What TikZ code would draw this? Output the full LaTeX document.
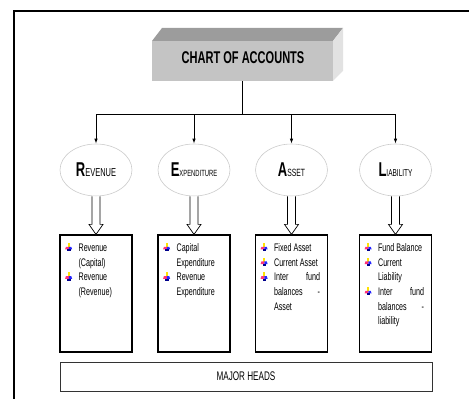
\documentclass[tikz,border=0pt]{standalone}
\usepackage{fontspec}
\setmainfont{Liberation Sans}[FakeStretch=0.65]
\usetikzlibrary{arrows.meta,calc,shapes.geometric}
\usepackage{array}

\definecolor{topface}{HTML}{9C9C9C}
\definecolor{frontface}{HTML}{C4C4C4}
\definecolor{sideface}{HTML}{E2E2E2}

\newcommand\bul{\tikz[x=1pt,y=1pt,baseline=0pt]{%
 \fill[yellow!85!orange] (2.6,4.2) rectangle (4.8,8.5);
 \fill[red!65!magenta!80] (0,2) -- (3.7,2) -- (3.7,4.6) -- (0.8,4.6) -- cycle;
 \fill[blue!85] (3.7,2) -- (7,2) -- (6.2,4.6) -- (3.7,4.6) -- cycle;
 \fill[blue!55!black] (2.2,0) rectangle (5.4,2);}}

\newcommand\hollowarrow[2]{%
 \draw[hollow] ($(#1.south)+(-4,0)$) -- ($(#2.north)+(-4,10)$) -- ($(#2.north)+(-7,10)$)
   -- (#2.north) -- ($(#2.north)+(7,10)$) -- ($(#2.north)+(4,10)$) -- ($(#1.south)+(4,0)$);}

\tikzset{
 ell/.style={ellipse, draw=gray!40, line width=0.6pt, fill=white, minimum width=72pt,
   minimum height=52pt, inner sep=0pt},
 headbox/.style={draw, line width=1.2pt, minimum width=72pt, minimum height=117pt, inner sep=0pt},
 conn/.style={line width=0.9pt},
 arr/.style={conn, -{Latex[length=5pt,width=3.5pt]}},
 hollow/.style={draw, line width=0.7pt, fill=white},
 itemtext/.style={anchor=north west, inner sep=0pt, align=left,
   font=\fontsize{11}{14.7}\selectfont},
}
\newcommand\myinitial[1]{{\bfseries\fontsize{20}{20}\selectfont #1}}

\begin{document}
\begin{tikzpicture}[x=1pt,y=1pt]
\useasboundingbox (0,0) rectangle (469,399);
% frame
\draw[line width=2.4pt] (14,0) -- (14,388) -- (469,388);

% 3D title box
\fill[topface] (152,358) -- (162,371) -- (343,371) -- (333,358) -- cycle;
\fill[sideface] (333,358) -- (343,371) -- (343,328) -- (333,318) -- cycle;
\node[fill=frontface, minimum width=181pt, minimum height=40pt, inner sep=0pt] (chart) at (242.5,338) {};
\node[font=\bfseries\fontsize{17}{17}\selectfont] (charttext) at (243,341.5) {CHART OF ACCOUNTS};

% ellipses
\node[ell] (rev) at (96,229) {\myinitial{R}{\fontsize{11.5}{11.5}\selectfont EVENUE}};
\node[ell] (exp) at (194,229) {\myinitial{E}{\fontsize{9}{9}\selectfont XPENDITURE}};
\node[ell] (ast) at (291.5,229) {\myinitial{A}{\fontsize{10.5}{10.5}\selectfont SSET}};
\node[ell] (lia) at (395.5,229) {\myinitial{L}{\fontsize{10}{10}\selectfont IABILITY}};

% connectors
\draw[conn] (chart.south) -- ++(0,-33) coordinate (hub);
\draw[arr] (hub) -| (rev.north);
\draw[arr] (hub) -| (exp.north);
\draw[arr] (hub) -| (ast.north);
\draw[arr] (hub) -| (lia.north);

% head boxes
\node[headbox] (b1) at (96,105.5) {};
\node[headbox] (b2) at (194,105.5) {};
\node[headbox] (b3) at (291.5,105.5) {};
\node[headbox] (b4) at (395.5,105.5) {};

\hollowarrow{rev}{b1}
\hollowarrow{exp}{b2}
\hollowarrow{ast}{b3}
\hollowarrow{lia}{b4}

\node[itemtext] (t1) at ($(b1.north west)+(5.5,-6.5)$) {%
\begin{tabular}{@{}p{13.5pt}@{}p{46pt}@{}}
\bul & Revenue\\ & (Capital)\\ \bul & Revenue\\ & (Revenue)
\end{tabular}};
\node[itemtext] (t2) at ($(b2.north west)+(5.5,-6.5)$) {%
\begin{tabular}{@{}p{13.5pt}@{}p{46pt}@{}}
\bul & Capital\\ & Expenditure\\ \bul & Revenue\\ & Expenditure
\end{tabular}};
\node[itemtext] (t3) at ($(b3.north west)+(5.5,-6.5)$) {%
\begin{tabular}{@{}p{13.5pt}@{}p{46pt}@{}}
\bul & Fixed Asset\\ \bul & Current Asset\\ \bul & Inter\hfill fund\\ & balances\hfill -\\ & Asset
\end{tabular}};
\node[itemtext] (t4) at ($(b4.north west)+(5.5,-6.5)$) {%
\begin{tabular}{@{}p{13.5pt}@{}p{46pt}@{}}
\bul & Fund Balance\\ \bul & Current\\ & Liability\\ \bul & Inter\hfill fund\\ & balances\hfill -\\ & liability
\end{tabular}};

% major heads
\node[draw=black!80, line width=0.6pt, minimum width=372pt, minimum height=29pt, inner sep=0pt,
  font=\fontsize{12.5}{12.5}\selectfont] (major) at (246,22.5) {MAJOR HEADS};
\end{tikzpicture}
\end{document}
